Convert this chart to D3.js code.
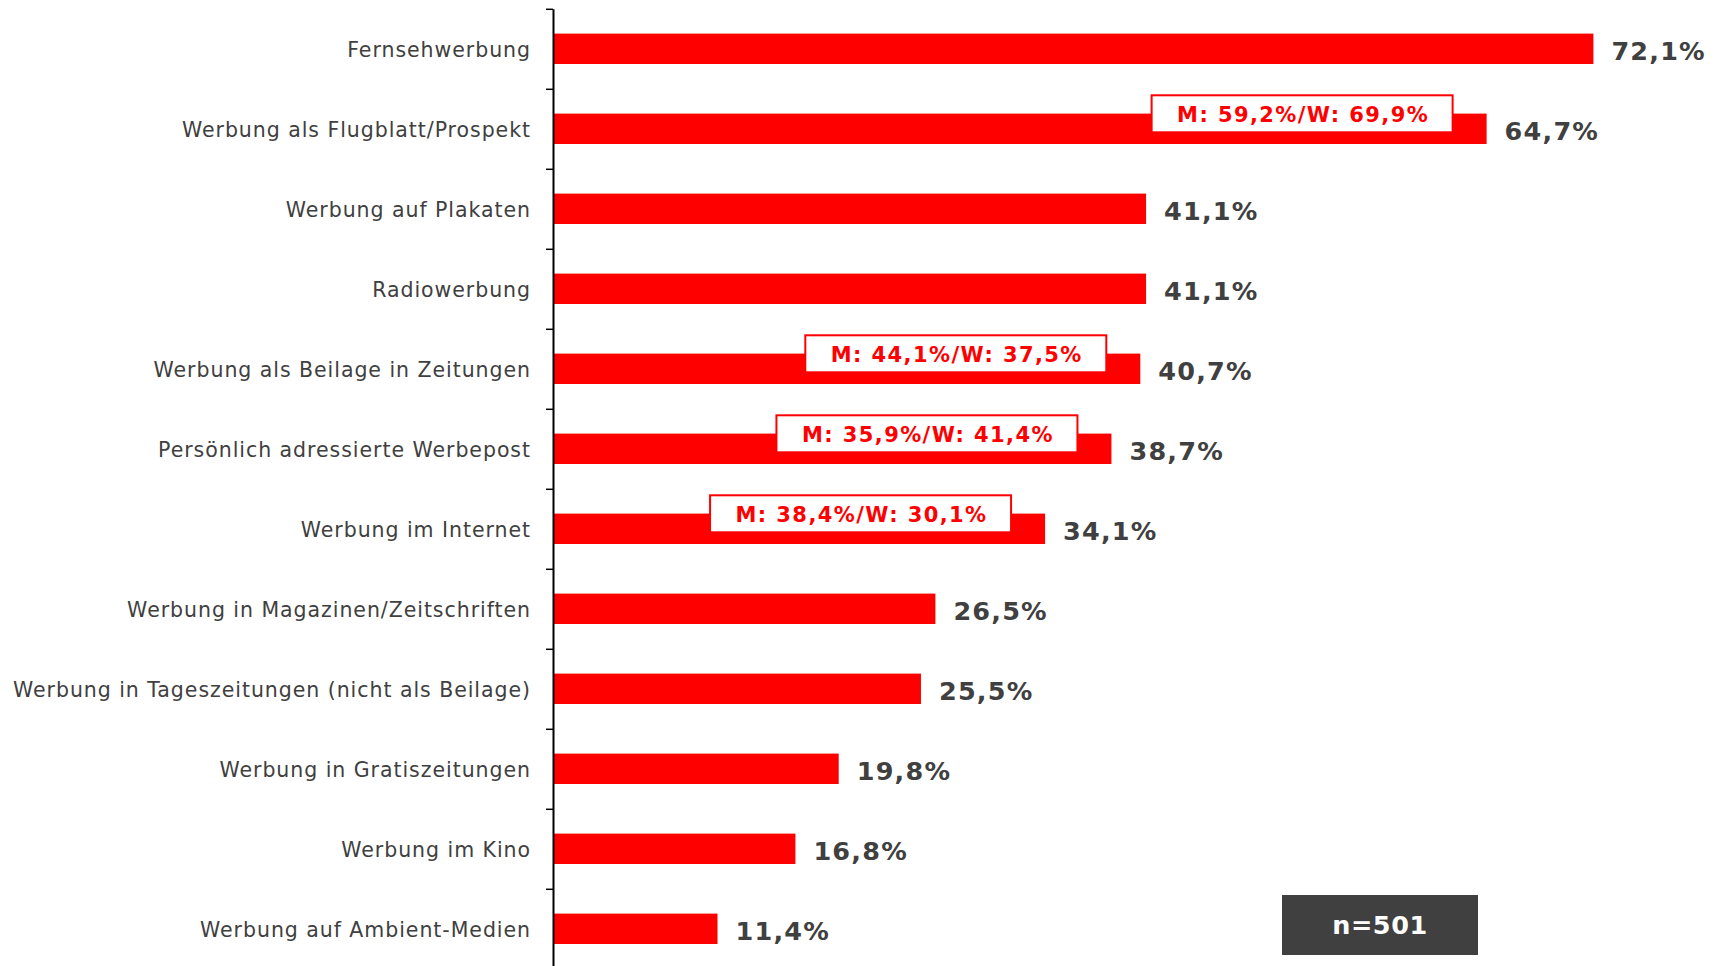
<script src="https://d3js.org/d3.v7.min.js"></script>
<style>
    body { margin: 0; background: #fff; }
    svg { display: block; }
</style>
<body>
<script>
    // data
    var categories = ["Fernsehwerbung", "Werbung als Flugblatt/Prospekt", "Werbung auf Plakaten",
        "Radiowerbung", "Werbung als Beilage in Zeitungen", "Persönlich adressierte Werbepost",
        "Werbung im Internet", "Werbung in Magazinen/Zeitschriften",
        "Werbung in Tageszeitungen (nicht als Beilage)", "Werbung in Gratiszeitungen",
        "Werbung im Kino", "Werbung auf Ambient-Medien"];
    var values = [72.1, 64.7, 41.1, 41.1, 40.7, 38.7, 34.1, 26.5, 25.5, 19.8, 16.8, 11.4];
    // gender split (M / W), only for some rows
    var men = [null, 59.2, null, null, 44.1, 35.9, 38.4, null, null, null, null, null];
    var women = [null, 69.9, null, null, 37.5, 41.4, 30.1, null, null, null, null, null];
    var sampleSize = 501;

    var width = 1719, height = 966;
    var fmt = function (v) { return v.toFixed(1).replace(".", ",") + "%"; };

    var svg = d3.select("body").append("svg")
        .attr("width", width)
        .attr("height", height);

    var x = d3.scaleLinear()
        .domain([0, 100])
        .range([553, 553 + 1443]);
    var y = d3.scaleBand()
        .domain(categories)
        .range([8.8, 968.8])
        .paddingInner(0.62)
        .paddingOuter(0.31);
    var yIdx = d3.scaleLinear()
        .domain([0, categories.length])
        .range([8.8, 968.8]);

    // bars
    svg.selectAll(".bar")
        .data(values)
        .enter()
        .append("rect")
        .attr("class", "bar")
        .attr("x", x(0))
        .attr("y", function (d, i) { return y(categories[i]); })
        .attr("width", function (d) { return x(d) - x(0); })
        .attr("height", y.bandwidth())
        .attr("fill", "#ff0000");

    // axis with ticks between categories
    var axis = svg.append("g")
        .attr("transform", "translate(" + x(0) + ",0)")
        .call(d3.axisLeft(yIdx).ticks(categories.length).tickFormat("").tickSize(7).tickSizeOuter(0));
    axis.select(".domain").attr("stroke", "#000").attr("stroke-width", 2);
    axis.selectAll(".tick line").attr("stroke", "#000").attr("stroke-width", 1.5);

    // category labels
    svg.selectAll(".cat")
        .data(categories)
        .enter()
        .append("text")
        .attr("class", "cat")
        .attr("x", x(0) - 22)
        .attr("y", function (d) { return y(d) + y.bandwidth() / 2; })
        .attr("dy", "0.38em")
        .attr("text-anchor", "end")
        .style("font-family", "DejaVu Sans")
        .style("font-size", "20.5px")
        .style("letter-spacing", "0.95px")
        .style("fill", "#404040")
        .text(function (d) { return d; });

    // value labels
    svg.selectAll(".val")
        .data(values)
        .enter()
        .append("text")
        .attr("class", "val")
        .attr("x", function (d) { return x(d) + 18; })
        .attr("y", function (d, i) { return y(categories[i]) + y.bandwidth() / 2; })
        .attr("dy", "0.42em")
        .style("font-family", "DejaVu Sans")
        .style("font-weight", "bold")
        .style("font-size", "25.5px")
        .style("letter-spacing", "1.2px")
        .style("fill", "#404040")
        .text(function (d) { return fmt(d); });

    // gender annotations
    values.forEach(function (v, i) {
        if (men[i] == null) return;
        var cy = y(categories[i]) + y.bandwidth() / 2 - 15;
        var g = svg.append("g");
        var rect = g.append("rect")
            .attr("fill", "#fff")
            .attr("stroke", "#ff0000")
            .attr("stroke-width", 2);
        var t = g.append("text")
            .attr("y", cy)
            .attr("dy", "0.37em")
            .attr("text-anchor", "middle")
            .style("font-family", "DejaVu Sans")
            .style("font-weight", "bold")
            .style("font-size", "21px")
            .style("letter-spacing", "1.4px")
            .style("fill", "#ff0000")
            .text("M: " + fmt(men[i]) + "/W: " + fmt(women[i]));
        var w = 301;
        var right = x(v) - 34;
        t.attr("x", right - w / 2 + 1);
        rect.attr("x", right - w).attr("y", cy - 18.5).attr("width", w).attr("height", 37);
    });

    // sample size box
    svg.append("rect")
        .attr("x", 1282)
        .attr("y", 895)
        .attr("width", 196)
        .attr("height", 60)
        .attr("fill", "#404040");
    svg.append("text")
        .attr("x", 1282 + 98)
        .attr("y", 925)
        .attr("dy", "0.36em")
        .attr("text-anchor", "middle")
        .style("font-family", "DejaVu Sans")
        .style("font-weight", "bold")
        .style("font-size", "25.5px")
        .style("letter-spacing", "0.6px")
        .style("fill", "#fff")
        .text("n=" + sampleSize);
</script>
</body>
